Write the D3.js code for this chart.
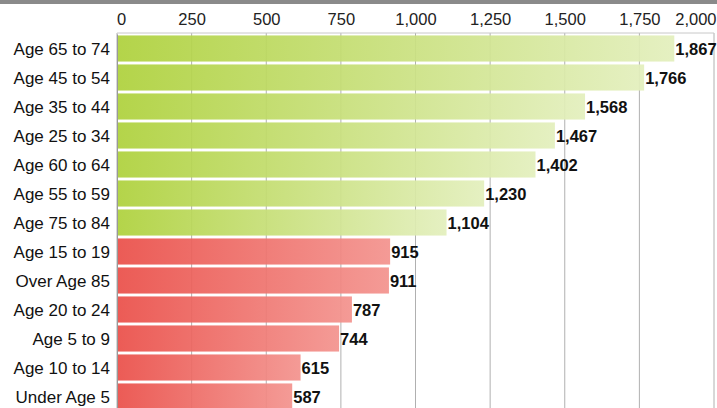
<!DOCTYPE html>
<html><head><meta charset="utf-8">
<script src="https://cdn.jsdelivr.net/npm/d3@7"></script>
<style>body{margin:0;background:#fff;}svg{display:block;font-family:"Liberation Sans",Arial,sans-serif;}</style>
</head><body><svg id="c" width="717" height="408"></svg>
<script>
const categories = ["Age 65 to 74","Age 45 to 54","Age 35 to 44","Age 25 to 34","Age 60 to 64","Age 55 to 59","Age 75 to 84","Age 15 to 19","Over Age 85","Age 20 to 24","Age 5 to 9","Age 10 to 14","Under Age 5"];
const values = [1867,1766,1568,1467,1402,1230,1104,915,911,787,744,615,587];
const groups = ["g","g","g","g","g","g","g","r","r","r","r","r","r"];
const tickValues = [0,250,500,750,1000,1250,1500,1750,2000];

(function(){
const svg = d3.select("#c");
const W = 717, H = 408;
const mLeft = 117, mRight = 714, mTop = 33;
const x = d3.scaleLinear().domain([0,2000]).range([mLeft,mRight]);
const y = d3.scaleBand().domain(categories).range([mTop+1, mTop+1+29*13]).paddingInner(0.1).paddingOuter(0.05);

const defs = svg.append("defs");
const gG = defs.append("linearGradient").attr("id","gg");
gG.append("stop").attr("offset","0%").attr("stop-color","#aed13c");
gG.append("stop").attr("offset","100%").attr("stop-color","#e3efbd");
const gR = defs.append("linearGradient").attr("id","gr");
gR.append("stop").attr("offset","0%").attr("stop-color","#ea4f49");
gR.append("stop").attr("offset","100%").attr("stop-color","#f3938e");

svg.append("rect").attr("x",0).attr("y",0).attr("width",W).attr("height",4).attr("fill","#8a8a8a");

svg.append("g").selectAll("line").data(tickValues).join("line")
  .attr("x1",d=>x(d)).attr("x2",d=>x(d)).attr("y1",mTop).attr("y2",H)
  .attr("stroke","#b0b0b0").attr("stroke-width",1);
svg.append("line").attr("x1",mLeft).attr("x2",mRight).attr("y1",mTop).attr("y2",mTop).attr("stroke","#c8c8c8");

const ax = d3.axisTop(x).tickValues(tickValues).tickSize(0).tickPadding(0).tickFormat(d3.format(","));
const axg = svg.append("g").attr("transform",`translate(0,25)`).call(ax);
axg.select(".domain").remove();
axg.selectAll("text").attr("font-size",16.5).attr("fill","#222").attr("dy",0).attr("font-family","Liberation Sans, Arial, sans-serif");
axg.selectAll(".tick").filter(d=>d===0).select("text").attr("dx",4);
axg.selectAll(".tick").filter(d=>d===2000).select("text").attr("text-anchor","end").attr("dx",2);

svg.append("g").selectAll("rect").data(categories).join("rect")
  .attr("x",x(0)).attr("y",d=>y(d)).attr("height",y.bandwidth())
  .attr("width",(d,i)=>x(values[i])-x(0))
  .attr("fill",(d,i)=>groups[i]==="g"?"url(#gg)":"url(#gr)")
  .attr("opacity",0.93);

svg.append("g").selectAll("text").data(categories).join("text")
  .attr("x",(d,i)=>x(values[i])+1).attr("y",d=>y(d)+y.bandwidth()/2+6)
  .attr("font-size",16.5).attr("font-weight","bold").attr("fill","#111")
  .text((d,i)=>d3.format(",")(values[i]));

const ay = d3.axisLeft(y).tickSize(0).tickPadding(7);
const ayg = svg.append("g").attr("transform",`translate(${mLeft},0)`).call(ay);
ayg.select(".domain").attr("stroke","#999");
ayg.selectAll("text").attr("font-size",17).attr("fill","#111").attr("dy","0.36em").attr("font-family","Liberation Sans, Arial, sans-serif");
})();
</script></body></html>
